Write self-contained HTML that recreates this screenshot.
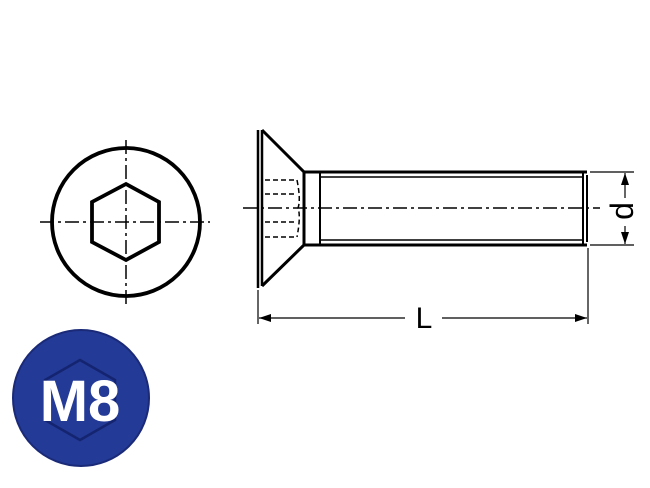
<!DOCTYPE html>
<html><head><meta charset="utf-8"><style>
html,body{margin:0;padding:0;background:#fff;width:650px;height:488px;overflow:hidden}
svg{display:block}
text{font-family:"Liberation Sans",sans-serif}
</style></head><body>
<svg width="650" height="488" viewBox="0 0 650 488">
<defs>
<marker id="ar" markerWidth="12" markerHeight="8" refX="12" refY="4" orient="auto-start-reverse" markerUnits="userSpaceOnUse"><path d="M0,0 L12,4 L0,8 z" fill="#000"/></marker>
</defs>
<g stroke="#000" fill="none">
<circle cx="126" cy="222" r="74" stroke-width="3.8"/>
<polygon points="126,184 159,202 159,242 126,260 92,242 92,202" stroke-width="3.8"/>
<line x1="40" y1="222" x2="210" y2="222" stroke-width="1.5" stroke-dasharray="14,4,3,4"/>
<line x1="126" y1="140" x2="126" y2="308" stroke-width="1.5" stroke-dasharray="14,4,3,4"/>
</g>
<g>
<circle cx="81" cy="398" r="68" fill="#233a96" stroke="#1a2a78" stroke-width="2"/>
<polygon points="80,360 115,380 115,420 80,440 45,420 45,380" fill="none" stroke="#142470" stroke-width="2.5"/>
<text x="80" y="421" text-anchor="middle" font-size="58" font-weight="bold" fill="#fff">M8</text>
</g>
<g stroke="#000" fill="none">
<line x1="258" y1="130" x2="258" y2="288" stroke-width="2.5"/>
<line x1="262" y1="130" x2="262" y2="286" stroke-width="2.5"/>
<polyline points="262,130 304,172 304,245 262,286" stroke-width="3"/>
<line x1="304" y1="172" x2="587" y2="172" stroke-width="3"/>
<line x1="304" y1="245" x2="587" y2="245" stroke-width="3"/>
<line x1="320" y1="177" x2="583" y2="177" stroke-width="1.5"/>
<line x1="320" y1="240" x2="583" y2="240" stroke-width="1.5"/>
<line x1="320" y1="172" x2="320" y2="245" stroke-width="2"/>
<line x1="583" y1="172" x2="583" y2="245" stroke-width="2"/>
<line x1="587" y1="175" x2="587" y2="242" stroke-width="2"/>
<g stroke-width="1.5" stroke-dasharray="5,3">
<line x1="265" y1="180" x2="297" y2="180"/><line x1="265" y1="194" x2="297" y2="194"/>
<line x1="265" y1="222" x2="297" y2="222"/><line x1="265" y1="237" x2="297" y2="237"/>
<path d="M297,180 Q301,200 298,208 Q301,216 297,237"/>
</g>
<line x1="243" y1="208" x2="600" y2="208" stroke-width="1.5" stroke-dasharray="14,4,3,4"/>
<line x1="590" y1="172" x2="634" y2="172" stroke-width="1.2"/>
<line x1="590" y1="245" x2="634" y2="245" stroke-width="1.2"/>
<line x1="625" y1="198" x2="625" y2="173" stroke-width="1.2" marker-end="url(#ar)"/>
<line x1="625" y1="226" x2="625" y2="244" stroke-width="1.2" marker-end="url(#ar)"/>
<line x1="258" y1="290" x2="258" y2="324" stroke-width="1.2"/>
<line x1="588" y1="248" x2="588" y2="324" stroke-width="1.2"/>
<line x1="405" y1="318" x2="259" y2="318" stroke-width="1.2" marker-end="url(#ar)"/>
<line x1="442" y1="318" x2="587" y2="318" stroke-width="1.2" marker-end="url(#ar)"/>
</g>
<text x="424" y="328" text-anchor="middle" font-size="30" fill="#000">L</text>
<text transform="translate(633,211) rotate(-90)" text-anchor="middle" font-size="32" fill="#000">d</text>
</svg>
</body></html>
